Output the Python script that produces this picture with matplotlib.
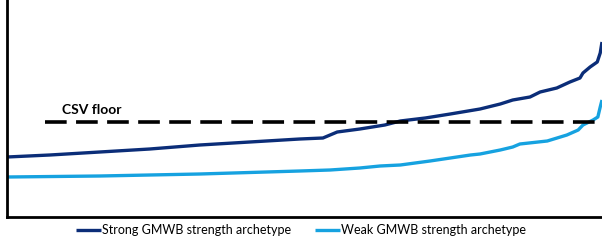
import matplotlib
matplotlib.use("Agg")
import matplotlib.pyplot as plt

# Percentile of scenarios (x) and value (arbitrary units)
strong_x = [0, 7.2, 15.6, 24.0, 32.4, 40.8, 49.2, 53.1, 55.5, 59.3, 63.5, 66.1, 70.3, 74.5,
            79.5, 82.9, 85.0, 87.9, 89.6, 92.4, 94.6, 96.3, 96.8, 98.0, 99.2, 99.7, 100]
strong_y = [60, 62, 65, 68, 72, 75, 78, 79, 85, 88, 92, 96, 99, 103,
            108, 113, 117, 120, 125, 129, 135, 139, 144, 150, 155, 164, 175]

weak_x = [0, 15.6, 32.4, 49.2, 54.3, 59.3, 62.7, 66.1, 71.1, 74.5, 77.9, 79.5, 82.9, 85.0,
          86.2, 90.8, 94.1, 96.0, 96.8, 98.5, 99.3, 99.7, 100]
weak_y = [40, 41, 43, 46, 47, 49, 51, 52, 56, 59, 62, 63, 67, 70,
          73, 76, 82, 87, 92, 97, 100, 110, 117]

csv_floor = 95
csv_start = 6.4
series_labels = ["Strong GMWB strength archetype", "Weak GMWB strength archetype"]

plt.rcParams['font.family'] = ['Lato', 'DejaVu Sans']

fig = plt.figure(figsize=(6.02, 2.41), dpi=100)
ax = fig.add_axes([7/602, 24/241, 595/602, 217/241])

ax.plot(strong_x, strong_y, color="#0b2d78", lw=2.4, label=series_labels[0], clip_on=False,
        solid_capstyle='butt')
ax.plot(weak_x, weak_y, color="#16a2e0", lw=2.4, label=series_labels[1], clip_on=False,
        solid_capstyle='butt')
ax.plot([csv_start, 100], [csv_floor, csv_floor], color="black", lw=2.6,
        dashes=(6, 2.6), clip_on=False)
ax.text(9.2, 107, "CSV floor", fontsize=10, fontweight='bold', va='center', ha='left')

ax.set_xlim(0, 100)
ax.set_ylim(0, 217)
ax.set_xticks([])
ax.set_yticks([])
for s in ['top', 'right']:
    ax.spines[s].set_visible(False)
for s in ['left', 'bottom']:
    ax.spines[s].set_linewidth(2)
    ax.spines[s].set_color('black')

fig.legend(loc='center', bbox_to_anchor=(0.5, 11/241), ncol=2, frameon=False,
           fontsize=9, handlelength=2.0, handletextpad=0.1, columnspacing=1.9)

fig.savefig("out.png", dpi=100)
